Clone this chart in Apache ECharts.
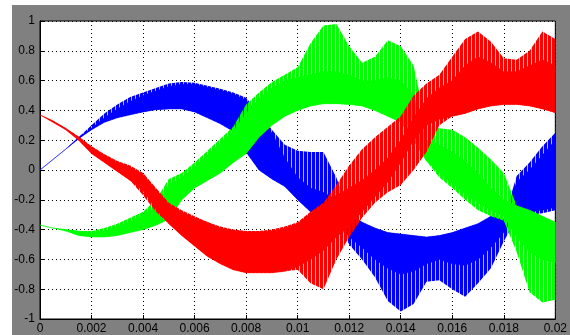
<!DOCTYPE html>
<html>
<head>
<meta charset="utf-8">
<script src="https://cdn.jsdelivr.net/npm/echarts@6/dist/echarts.min.js"></script>
<style>
  html, body { margin: 0; padding: 0; background: #fff; }
  #chart { width: 570px; height: 335px; }
</style>
</head>
<body>
<div id="chart"></div>
<script>
// sample times (s), one every 0.0005
var t = [0, 0.0005, 0.001, 0.0015, 0.002, 0.0025, 0.003, 0.0035, 0.004, 0.0045,
         0.005, 0.0055, 0.006, 0.0065, 0.007, 0.0075, 0.008, 0.0085, 0.009, 0.0095,
         0.01, 0.0105, 0.011, 0.0115, 0.012, 0.0125, 0.013, 0.0135, 0.014, 0.0145,
         0.015, 0.0155, 0.016, 0.0165, 0.017, 0.0175, 0.018, 0.0185, 0.019, 0.0195, 0.02];

// envelopes: hi/lo = spike tips, top/bot = solid band
var blueHi  = [0, 0.07, 0.14, 0.22, 0.30, 0.38, 0.44, 0.49, 0.52, 0.55, 0.58, 0.59, 0.585, 0.565, 0.545, 0.52, 0.485, 0.38, 0.27, 0.17, 0.13, 0.12, 0.12, -0.05, -0.29, -0.35, -0.39, -0.42, -0.43, -0.44, -0.45, -0.44, -0.42, -0.39, -0.36, -0.31, -0.33, -0.04, 0.05, 0.16, 0.25];
var blueTop = [0, 0.07, 0.14, 0.22, 0.28, 0.35, 0.41, 0.46, 0.50, 0.53, 0.56, 0.575, 0.575, 0.555, 0.535, 0.51, 0.47, 0.36, 0.25, 0.08, -0.05, -0.12, -0.15, -0.2, -0.29, -0.35, -0.39, -0.42, -0.43, -0.44, -0.45, -0.44, -0.42, -0.39, -0.36, -0.31, -0.33, -0.08, 0.0, 0.1, 0.2];
var blueBot = [0, 0.07, 0.14, 0.21, 0.27, 0.32, 0.35, 0.37, 0.39, 0.405, 0.41, 0.41, 0.39, 0.35, 0.31, 0.26, 0.12, 0.0, -0.06, -0.11, -0.2, -0.28, -0.3, -0.32, -0.45, -0.52, -0.6, -0.66, -0.7, -0.68, -0.63, -0.6, -0.63, -0.64, -0.6, -0.52, -0.42, -0.28, -0.28, -0.27, -0.25];
var blueLo  = [0, 0.07, 0.14, 0.21, 0.27, 0.32, 0.35, 0.37, 0.39, 0.405, 0.41, 0.41, 0.39, 0.35, 0.31, 0.26, 0.12, 0.0, -0.06, -0.11, -0.2, -0.28, -0.3, -0.32, -0.5, -0.6, -0.72, -0.88, -0.95, -0.9, -0.75, -0.74, -0.8, -0.85, -0.76, -0.66, -0.48, -0.32, -0.3, -0.29, -0.27];

var greenHi  = [-0.37, -0.39, -0.40, -0.41, -0.41, -0.39, -0.36, -0.32, -0.28, -0.2, -0.06, -0.02, 0.05, 0.13, 0.21, 0.29, 0.44, 0.52, 0.59, 0.64, 0.69, 0.85, 0.97, 0.98, 0.83, 0.72, 0.76, 0.87, 0.83, 0.7, 0.3, 0.28, 0.27, 0.22, 0.15, 0.07, -0.02, -0.24, -0.27, -0.31, -0.35];
var greenTop = [-0.37, -0.39, -0.40, -0.41, -0.42, -0.41, -0.38, -0.345, -0.3, -0.25, -0.1, -0.05, 0.02, 0.1, 0.18, 0.26, 0.38, 0.48, 0.55, 0.6, 0.62, 0.64, 0.66, 0.66, 0.64, 0.6, 0.6, 0.62, 0.6, 0.5, 0.2, 0.17, 0.12, 0.06, -0.02, -0.12, -0.2, -0.24, -0.27, -0.31, -0.35];
var greenBot = [-0.37, -0.39, -0.41, -0.44, -0.45, -0.45, -0.44, -0.42, -0.40, -0.37, -0.33, -0.2, -0.12, -0.07, -0.02, 0.05, 0.11, 0.22, 0.3, 0.36, 0.40, 0.43, 0.445, 0.445, 0.44, 0.43, 0.40, 0.36, 0.32, 0.2, 0.06, -0.02, -0.09, -0.16, -0.22, -0.27, -0.31, -0.45, -0.55, -0.6, -0.62];
var greenLo  = [-0.37, -0.39, -0.41, -0.44, -0.45, -0.45, -0.44, -0.42, -0.40, -0.37, -0.33, -0.2, -0.12, -0.07, -0.02, 0.05, 0.11, 0.22, 0.3, 0.36, 0.40, 0.43, 0.445, 0.445, 0.44, 0.43, 0.40, 0.36, 0.32, 0.2, 0.06, -0.05, -0.12, -0.2, -0.27, -0.31, -0.34, -0.55, -0.82, -0.89, -0.87];

var redHi  = [0.37, 0.33, 0.28, 0.225, 0.16, 0.105, 0.06, 0.03, -0.02, -0.12, -0.22, -0.27, -0.31, -0.35, -0.38, -0.4, -0.41, -0.41, -0.4, -0.38, -0.35, -0.28, -0.22, -0.1, 0.03, 0.14, 0.22, 0.29, 0.36, 0.5, 0.58, 0.64, 0.76, 0.88, 0.93, 0.86, 0.75, 0.74, 0.8, 0.93, 0.88];
var redTop = [0.37, 0.33, 0.28, 0.22, 0.155, 0.1, 0.055, 0.02, -0.03, -0.13, -0.23, -0.28, -0.32, -0.35, -0.39, -0.405, -0.415, -0.415, -0.41, -0.39, -0.36, -0.29, -0.23, -0.17, -0.12, -0.07, 0.0, 0.08, 0.2, 0.35, 0.48, 0.55, 0.6, 0.7, 0.76, 0.72, 0.66, 0.66, 0.7, 0.74, 0.7];
var redBot = [0.37, 0.32, 0.27, 0.2, 0.11, 0.05, -0.01, -0.07, -0.14, -0.26, -0.36, -0.44, -0.51, -0.58, -0.63, -0.67, -0.69, -0.69, -0.69, -0.68, -0.65, -0.6, -0.54, -0.45, -0.38, -0.28, -0.18, -0.08, 0.05, 0.2, 0.3, 0.34, 0.36, 0.38, 0.41, 0.43, 0.44, 0.44, 0.43, 0.41, 0.385];
var redLo  = [0.37, 0.32, 0.27, 0.2, 0.11, 0.05, -0.01, -0.07, -0.17, -0.28, -0.36, -0.44, -0.51, -0.58, -0.63, -0.67, -0.69, -0.69, -0.69, -0.68, -0.67, -0.76, -0.8, -0.6, -0.45, -0.32, -0.22, -0.15, -0.1, 0.0, 0.12, 0.3, 0.36, 0.38, 0.41, 0.43, 0.44, 0.44, 0.43, 0.41, 0.385];

var myChart = echarts.init(document.getElementById('chart'));

// vertical-stripe fill so the spiky fringe looks like the PWM hatching
function stripes(color) {
    var c = document.createElement('canvas');
    c.width = 4; c.height = 4;
    var ctx = c.getContext('2d');
    ctx.fillStyle = color;
    ctx.fillRect(0, 0, 3, 4);
    ctx.globalAlpha = 0.3;
    ctx.fillRect(3, 0, 1, 4);
    return { image: c, repeat: 'repeat' };
}

// draws the whole band (upper edge, then lower edge back) as one polygon
function renderBand(params, api) {
    if (params.dataIndexInside !== 0) return null;
    var n = params.dataInsideLength;
    var pts = [];
    for (var i = 0; i < n; i++) pts.push(api.coord([api.value(0, i), api.value(1, i)]));
    for (var j = n - 1; j >= 0; j--) pts.push(api.coord([api.value(0, j), api.value(2, j)]));
    return {
        type: 'polygon',
        shape: { points: pts },
        style: { fill: api.visual('color'), stroke: api.visual('color'), lineWidth: 0.5 }
    };
}

function band(color, upper, lower, fill) {
    return {
        type: 'custom',
        renderItem: function (params, api) {
            var el = renderBand(params, api);
            if (el && fill) { el.style.fill = fill; el.style.stroke = null; }
            return el;
        },
        silent: true,
        itemStyle: { color: color },
        encode: { x: 0, y: [1, 2] },
        data: t.map(function (x, i) { return [x, upper[i], lower[i]]; })
    };
}

var series = [
    band('#0000ff', blueHi, blueLo, stripes('#0000ff')),
    band('#0000ff', blueTop, blueBot),
    band('#00ff00', greenHi, greenLo, stripes('#00ff00')),
    band('#00ff00', greenTop, greenBot),
    band('#ff0000', redHi, redLo, stripes('#ff0000')),
    band('#ff0000', redTop, redBot)
];

var option = {
    animation: false,
    backgroundColor: '#fff',
    graphic: [{
        type: 'rect',
        z: -10,
        shape: { x: 12, y: 5, width: 558, height: 330 },
        style: { fill: '#808080' }
    }],
    grid: {
        left: 40, top: 21, right: 10, bottom: 16,
        show: true,
        backgroundColor: '#fff',
        borderColor: '#000',
        borderWidth: 1
    },
    xAxis: {
        type: 'value',
        min: 0, max: 0.02, interval: 0.002,
        axisLine: { onZero: false, lineStyle: { color: '#000' } },
        axisTick: { inside: true, length: 4, lineStyle: { color: '#000' } },
        axisLabel: { color: '#000', fontSize: 12, fontFamily: 'Liberation Sans', margin: 4 },
        splitLine: { lineStyle: { color: '#000', type: [1, 3], width: 1 } }
    },
    yAxis: {
        type: 'value',
        min: -1, max: 1, interval: 0.2,
        axisLine: { show: true, onZero: false, lineStyle: { color: '#000' } },
        axisTick: { show: true, inside: true, length: 4, lineStyle: { color: '#000' } },
        axisLabel: { color: '#000', fontSize: 12, fontFamily: 'Liberation Sans', margin: 5 },
        splitLine: { lineStyle: { color: '#000', type: [1, 3], width: 1 } }
    },
    series: series
};
myChart.setOption(option);
</script>
</body>
</html>
